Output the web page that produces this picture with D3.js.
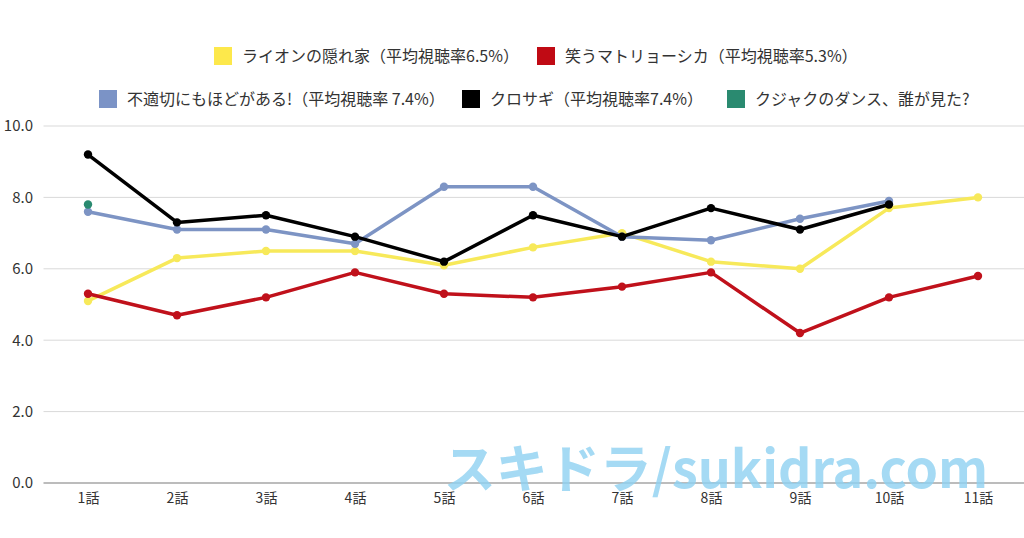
<!DOCTYPE html>
<html><head><meta charset="utf-8">
<script src="https://cdn.jsdelivr.net/npm/d3@7"></script>
<style>
html,body{margin:0;padding:0;background:#fff;}
svg{display:block;font-family:"Noto Sans CJK JP","Noto Sans",sans-serif;}
</style></head>
<body>
<svg id="chart" width="1024" height="538"></svg>
<script>
const categories = ["1話","2話","3話","4話","5話","6話","7話","8話","9話","10話","11話"];
const seriesNames = [
  "ライオンの隠れ家（平均視聴率6.5%）",
  "笑うマトリョーシカ（平均視聴率5.3%）",
  "不適切にもほどがある!（平均視聴率 7.4%）",
  "クロサギ（平均視聴率7.4%）",
  "クジャクのダンス、誰が見た?"
];
const lion   = [5.1, 6.3, 6.5, 6.5, 6.1, 6.6, 7.0, 6.2, 6.0, 7.7, 8.0];
const warau  = [5.3, 4.7, 5.2, 5.9, 5.3, 5.2, 5.5, 5.9, 4.2, 5.2, 5.8];
const futeki = [7.6, 7.1, 7.1, 6.7, 8.3, 8.3, 6.9, 6.8, 7.4, 7.9, null];
const kurosagi = [9.2, 7.3, 7.5, 6.9, 6.2, 7.5, 6.9, 7.7, 7.1, 7.8, null];
const kujaku = [7.8, null, null, null, null, null, null, null, null, null, null];
const yTicks = [0, 2, 4, 6, 8, 10];
const colors = ["#f7e95a", "#c0111b", "#7d94c4", "#000000", "#2a8a70"];
const swatchColors = ["#fde84b", "#c00a14", "#7b93c6", "#000000", "#2a8a70"];

const allSeries = [lion, warau, futeki, kurosagi, kujaku];
const drawOrder = [0, 1, 2, 3, 4];

const svg = d3.select("#chart");
const margin = {left: 43.5, right: 1022.5, top: 126, bottom: 483};
const FONT = '"Noto Sans CJK JP","Noto Sans",sans-serif';

const x = d3.scalePoint().domain(categories).range([margin.left, margin.right]).padding(0.5);
const y = d3.scaleLinear().domain([0, 10]).range([margin.bottom, margin.top]);

// gridlines
svg.append("g").selectAll("line").data(yTicks.filter(d => d !== 0)).join("line")
  .attr("x1", margin.left).attr("x2", 1024)
  .attr("y1", d => y(d)).attr("y2", d => y(d))
  .attr("stroke", "#d9d9d9").attr("stroke-width", 1);

// y axis labels
const yAxis = d3.axisLeft(y).tickValues(yTicks).tickFormat(d3.format(".1f")).tickSize(0).tickPadding(0);
const yg = svg.append("g").attr("transform", "translate(33,0)").call(yAxis);
yg.select(".domain").remove();
yg.selectAll("text").attr("font-size", 15).attr("fill", "#333").attr("font-family", FONT);

// x axis
const xAxis = d3.axisBottom(x).tickSize(0).tickPadding(10);
const xg = svg.append("g").attr("transform", `translate(0,${y(0)})`).call(xAxis);
xg.select(".domain").remove();
xg.selectAll("text").attr("font-size", 14).attr("fill", "#333").attr("font-family", FONT);
svg.append("line").attr("x1", margin.left).attr("x2", 1024)
  .attr("y1", y(0)).attr("y2", y(0)).attr("stroke", "#a6a6a6").attr("stroke-width", 1.5);

// lines
const line = d3.line().defined(d => d.v != null).x(d => x(d.c)).y(d => y(d.v));
drawOrder.forEach(i => {
  const data = categories.map((c, k) => ({c, v: allSeries[i][k]}));
  svg.append("path").datum(data).attr("d", line)
    .attr("fill", "none").attr("stroke", colors[i]).attr("stroke-width", 3.5)
    .attr("stroke-linejoin", "round");
  svg.append("g").selectAll("circle").data(data.filter(d => d.v != null)).join("circle")
    .attr("cx", d => x(d.c)).attr("cy", d => y(d.v)).attr("r", 4.2)
    .attr("fill", colors[i]);
});

// legend
const legendItems = [
  {i: 0, sx: 214, sy: 47},
  {i: 1, sx: 537, sy: 47},
  {i: 2, sx: 99, sy: 90},
  {i: 3, sx: 462, sy: 90},
  {i: 4, sx: 727, sy: 90}
];
const lg = svg.append("g");
legendItems.forEach(it => {
  lg.append("rect").attr("x", it.sx).attr("y", it.sy).attr("width", 18).attr("height", 18)
    .attr("fill", swatchColors[it.i]);
  lg.append("text").attr("x", it.sx + 28).attr("y", it.sy + 9).attr("dy", "0.35em")
    .attr("font-size", 16).attr("fill", "#333").text(seriesNames[it.i]);
});

// watermark
svg.append("text").attr("x", 716).attr("y", 488).attr("text-anchor", "middle")
  .attr("font-size", 52).attr("font-weight", "bold").attr("fill", "#8fd2f2").attr("opacity", 0.8)
  .attr("font-family", FONT)
  .text("スキドラ/sukidra.com");
</script>
</body></html>
